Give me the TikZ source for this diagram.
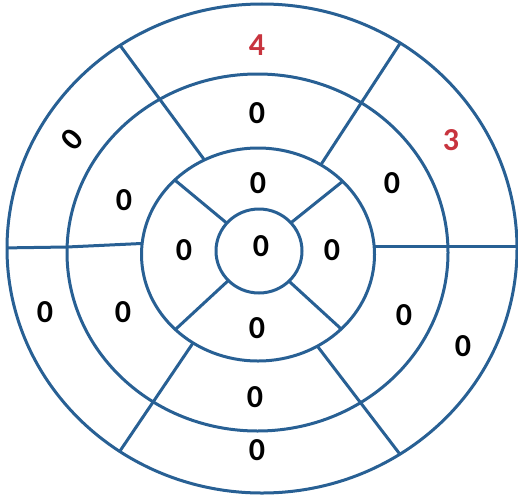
\documentclass[tikz,border=0pt]{standalone}
\usepackage{fontspec}
\setmainfont{Carlito}
\usetikzlibrary{calc}
\definecolor{ringblue}{RGB}{40,96,148}
\definecolor{valred}{RGB}{200,52,62}
\begin{document}
\begin{tikzpicture}[x=1pt,y=-1pt]
\tikzset{
  ringline/.style={draw=ringblue,line width=3pt},
  val/.style={font=\bfseries\fontsize{32pt}{34pt}\selectfont,text=black,inner sep=0pt},
  hot/.style={val,text=valred}}
\useasboundingbox (0,0) rectangle (518,495);
% centres
\coordinate (c1) at (262,248.5);
\coordinate (c2) at (257.5,252.5);
\coordinate (c3) at (258,254.5);
\coordinate (c4) at (259,251);
% long separators (outer two rings)
\coordinate (tli) at (203,158); \coordinate (tlo) at (122,48);
\coordinate (tri) at (322,163); \coordinate (tro) at (399,45);
\coordinate (bli) at (193,343); \coordinate (blo) at (122,448);
\coordinate (bri) at (318,347); \coordinate (bro) at (399,453);
% inner separator ends
\coordinate (iul) at (228,223); \coordinate (iur) at (290,221);
\coordinate (ill) at (228,282); \coordinate (ilr) at (288,283);
\begin{scope}
  \clip (c1) ellipse [x radius=255, y radius=244.5];
  \foreach \i/\o in {tli/tlo,tri/tro,bli/blo,bri/bro}
    \draw[ringline] ($(\i)!-0.15!(\o)$) -- ($(\i)!1.2!(\o)$);
  \draw[ringline] (0,248) -- (67,247) -- (152,243);
  \draw[ringline] (360,246) -- (525,246);
\end{scope}
\fill[white] (c3) ellipse [x radius=116.5, y radius=106.5];
% inner separators
\foreach \t/\p in {224.4/iul,316.6/iur,135.2/ill,44.4/ilr}
  \draw[ringline] ($(c3)+(\t:116.5 and 106.5)$) -- ($(c4)!0.5!(\p)$);
\fill[white] (c4) circle [radius=43];
% ring outlines
\draw[ringline] (c1) ellipse [x radius=255, y radius=244.5];
\draw[ringline] (c2) ellipse [x radius=190.5, y radius=178.5];
\draw[ringline] (c3) ellipse [x radius=116.5, y radius=106.5];
\draw[ringline] (c4) ellipse [x radius=43, y radius=42];
% values
\node[hot] (s1) at (257,45) {4};
\node[hot] (s2) at (451,140) {3};
\node[val,rotate=48] (s6) at (72,140) {0};
\node[val] (s5) at (45,312) {0};
\node[val] (s4) at (463,346) {0};
\node[val] (s3) at (257,450) {0};
\node[val] (s7) at (257,113) {0};
\node[val] (s8) at (124,200) {0};
\node[val] (s9) at (392,183) {0};
\node[val] (s10) at (123,312) {0};
\node[val] (s11) at (404,315) {0};
\node[val] (s12) at (255,397) {0};
\node[val] (s13) at (258,183) {0};
\node[val] (s14) at (184,250) {0};
\node[val] (s15) at (332,250) {0};
\node[val] (s16) at (257,328) {0};
\node[val] (s17) at (261,246) {0};
\end{tikzpicture}
\end{document}
